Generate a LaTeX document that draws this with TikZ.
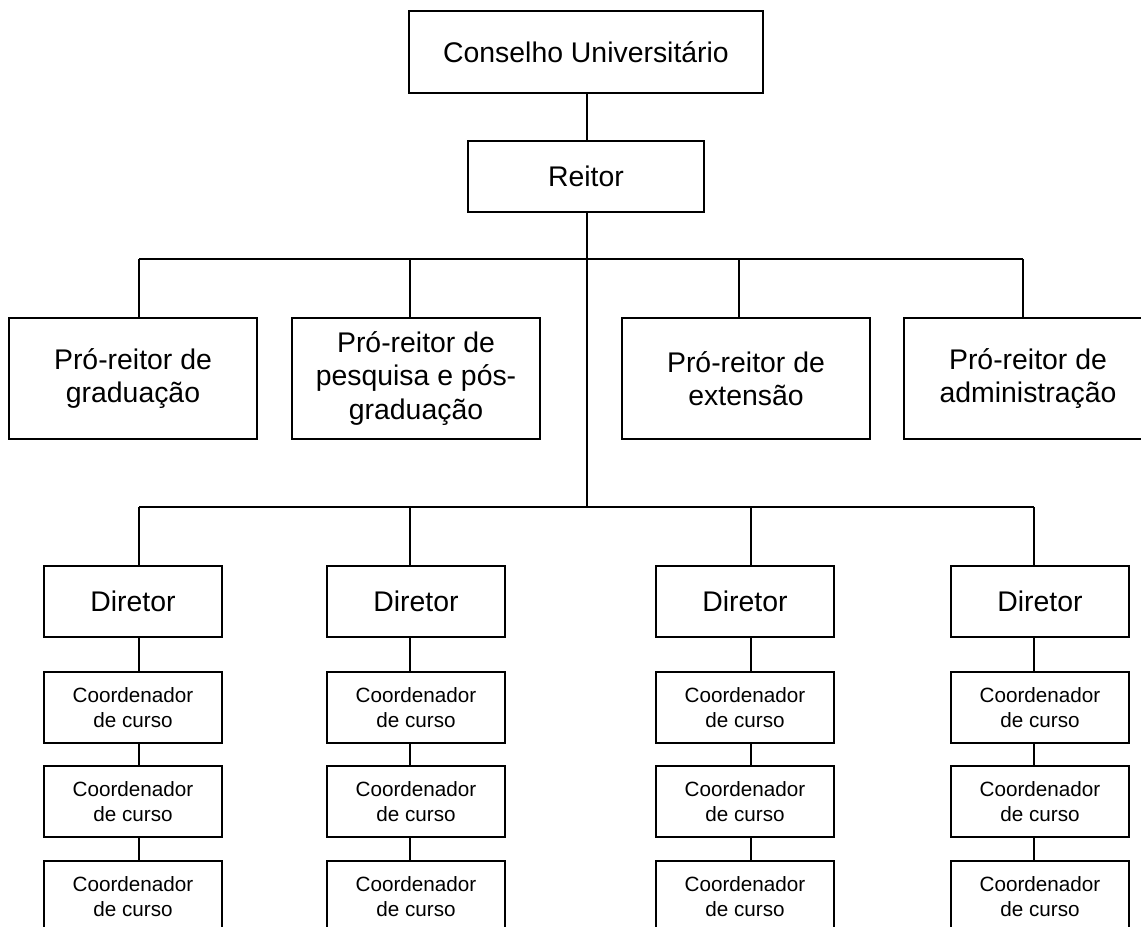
\documentclass[tikz,border=0pt]{standalone}
\usepackage{fontspec}
\setmainfont{Liberation Sans}
\begin{document}
\begin{tikzpicture}[x=0.75pt,y=-0.75pt,
  box/.style={draw=black,line width=0.9pt,fill=white,inner sep=0pt,align=center},
  bigtxt/.style={font=\fontsize{21.3}{24.9}\selectfont},
  smalltxt/.style={font=\fontsize{15.5}{19.3}\selectfont},
  probox/.style={box,bigtxt,minimum width=186pt,minimum height=90.75pt},
  dirbox/.style={box,bigtxt,minimum width=133.5pt,minimum height=53.25pt},
  coordbox/.style={box,smalltxt,minimum width=133.5pt,minimum height=53.25pt},
  link/.style={draw=black,line width=0.9pt}]
\useasboundingbox (0,0) rectangle (1141,927);
\fill[white] (0,0) rectangle (1141,927);

% top
\node[box,bigtxt,minimum width=265.5pt,minimum height=61.5pt] (cons) at (586,52) {Conselho Universitário};
\node[box,bigtxt,minimum width=177pt,minimum height=53.25pt] (reitor) at (586,176.5) {Reitor};

% pro-reitores
\node[probox] (pr1) at (133,378.5) {Pró-reitor de\\graduação};
\node[probox] (pr2) at (416,378.5) {\raisebox{-1.2pt}{\parbox{180pt}{\centering Pró-reitor de\\pesquisa e pós-\\graduação}}};
\node[probox] (pr3) at (746,378.5) {Pró-reitor de\\extensão};
\node[probox] (pr4) at (1028,378.5) {Pró-reitor de\\administração};

% diretores
\foreach \i/\cx in {1/133,2/416,3/745,4/1040}{
  \node[dirbox] (d\i) at (\cx,601.5) {Diretor};
  \node[coordbox] (c\i a) at (\cx,707.5) {Coordenador\\de curso};
  \node[coordbox] (c\i b) at (\cx,801.5) {Coordenador\\de curso};
  \node[coordbox] (c\i c) at (\cx,896.5) {Coordenador\\de curso};
}

% junction coordinates
\coordinate (h1) at (139,259);
\coordinate (h2) at (410,259);
\coordinate (h3) at (739,259);
\coordinate (h4) at (1023,259);
\coordinate (m) at (587,259);
\coordinate (b1) at (139,507);
\coordinate (b2) at (410,507);
\coordinate (b3) at (751,507);
\coordinate (b4) at (1034,507);
\coordinate (bm) at (587,507);

% connectors
\path[link] (cons.south -| m) -- (reitor.north -| m);
\path[link] (reitor.south -| m) -- (bm);
\path[link] (h1) -- (h4);
\path[link] (b1) -- (b4);
\path[link] (h1) -- (h1 |- pr1.north);
\path[link] (h2) -- (h2 |- pr2.north);
\path[link] (h3) -- (h3 |- pr3.north);
\path[link] (h4) -- (h4 |- pr4.north);
\foreach \i in {1,2,3,4}{
  \path[link] (b\i) -- (b\i |- d\i.north);
  \path[link] (b\i |- d\i.south) -- (b\i |- c\i a.north);
  \path[link] (b\i |- c\i a.south) -- (b\i |- c\i b.north);
  \path[link] (b\i |- c\i b.south) -- (b\i |- c\i c.north);
}
\end{tikzpicture}
\end{document}
